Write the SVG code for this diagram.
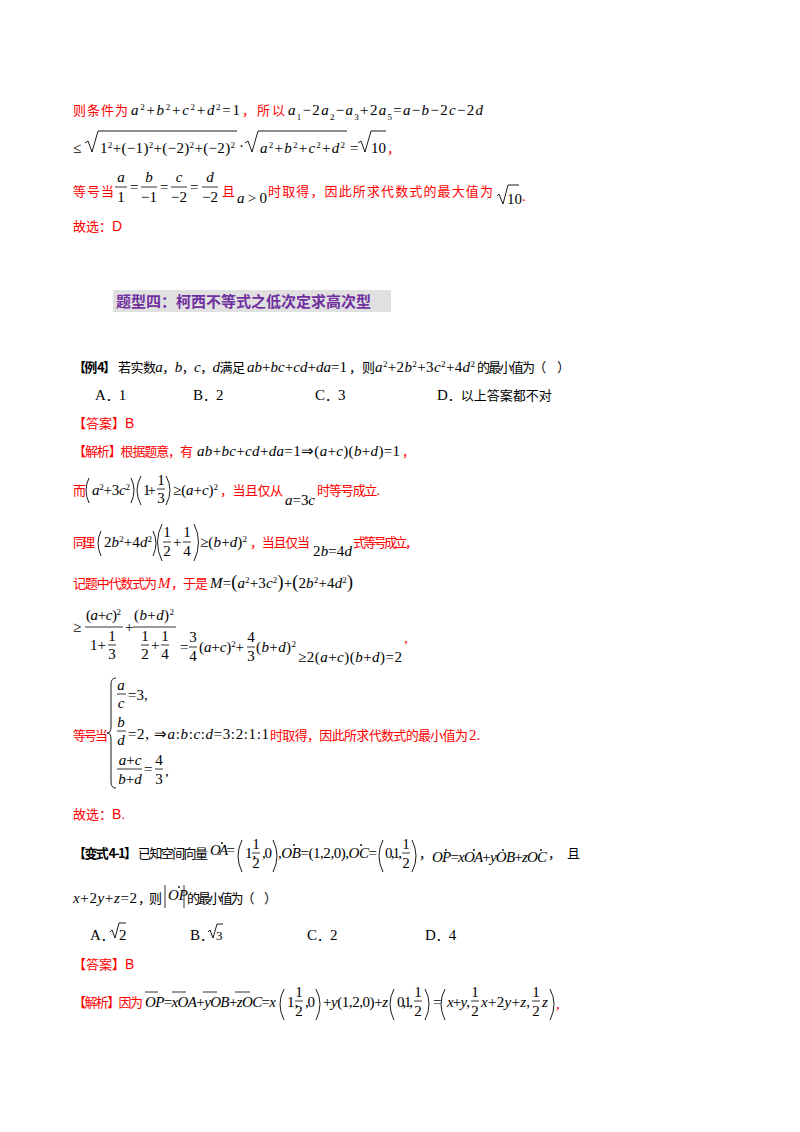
<svg xmlns="http://www.w3.org/2000/svg" width="800" height="1132" viewBox="0 0 800 1132">
<style>
text{font-family:"Liberation Serif",serif;font-size:15px;fill:#000}
.r{fill:#f00;font-family:"Noto Sans CJK SC",sans-serif;font-size:13px}
.k{font-family:"Noto Sans CJK SC",sans-serif;font-size:13px}
.kb{font-family:"Noto Sans CJK SC",sans-serif;font-size:13px;font-weight:bold}
.i{font-style:italic}
.s{font-size:9px;baseline-shift:super}
.b{font-size:9px;baseline-shift:sub}
.rs{fill:#f00;font-family:"Liberation Sans",sans-serif;font-size:14px}
.rr{fill:#f00}
line{stroke:#000;stroke-width:0.8}
path{stroke:#000;stroke-width:0.9;fill:none}
circle{fill:#000}
.c{text-anchor:middle}
</style>
<rect width="800" height="1132" fill="#fff"/>
<g id="sol3">
<text x="73" y="115" class="r" textLength="55">则条件为</text>
<text x="131" y="115" textLength="109"><tspan class="i">a</tspan><tspan class="s">2</tspan>+<tspan class="i">b</tspan><tspan class="s">2</tspan>+<tspan class="i">c</tspan><tspan class="s">2</tspan>+<tspan class="i">d</tspan><tspan class="s">2</tspan>=1</text>
<text x="242" y="115" class="r" textLength="43">，所以</text>
<text x="288" y="115" textLength="195"><tspan class="i">a</tspan><tspan class="b">1</tspan>−2<tspan class="i">a</tspan><tspan class="b">2</tspan>−<tspan class="i">a</tspan><tspan class="b">3</tspan>+2<tspan class="i">a</tspan><tspan class="b">5</tspan>=<tspan class="i">a</tspan>−<tspan class="i">b</tspan>−2<tspan class="i">c</tspan>−2<tspan class="i">d</tspan></text>
<text x="73" y="153">≤</text>
<path d="M85,143 l3,-2 l4,11 l6,-21 H237"/>
<text x="100" y="153" textLength="135">1<tspan class="s">2</tspan>+(−1)<tspan class="s">2</tspan>+(−2)<tspan class="s">2</tspan>+(−2)<tspan class="s">2</tspan></text>
<text x="239" y="151">·</text>
<path d="M245,143 l3,-2 l4,11 l6,-21 H347"/>
<text x="260" y="153" textLength="85"><tspan class="i">a</tspan><tspan class="s">2</tspan>+<tspan class="i">b</tspan><tspan class="s">2</tspan>+<tspan class="i">c</tspan><tspan class="s">2</tspan>+<tspan class="i">d</tspan><tspan class="s">2</tspan></text>
<text x="350" y="153">=</text>
<path d="M358,143 l3,-2 l4,11 l6,-21 H386"/>
<text x="371" y="153">10</text>
<text x="387" y="153" class="r">，</text>
<text x="73" y="196" class="r" textLength="41">等号当</text>
<text x="121" y="182" class="c i">a</text><line x1="115" y1="187" x2="127" y2="187"/><text x="121" y="202" class="c">1</text>
<text x="130" y="192">=</text>
<text x="149" y="182" class="c i">b</text><line x1="141" y1="187" x2="157" y2="187"/><text x="149" y="202" class="c">−1</text>
<text x="160" y="192">=</text>
<text x="179" y="182" class="c i">c</text><line x1="171" y1="187" x2="187" y2="187"/><text x="179" y="202" class="c">−2</text>
<text x="190" y="192">=</text>
<text x="210" y="182" class="c i">d</text><line x1="202" y1="187" x2="218" y2="187"/><text x="210" y="202" class="c">−2</text>
<text x="222" y="196" class="r">且</text>
<text x="237" y="203" textLength="30"><tspan class="i">a</tspan>&gt;0</text>
<text x="268" y="196" class="r" textLength="225">时取得，因此所求代数式的最大值为</text>
<path d="M497,196 l2,-2 l4,10 l5,-19 H519"/>
<text x="507" y="204">10</text><text x="522" y="201" class="rr">.</text>
<text x="73" y="231"><tspan class="r">故选：</tspan><tspan class="rs">D</tspan></text>
</g>
<g id="header">
<rect x="113" y="290" width="278" height="22" fill="#e0e0e0"/>
<text x="116" y="307" style="font-family:'Noto Sans CJK SC',sans-serif;font-size:15px;font-weight:bold;fill:#7030a0">题型四：柯西不等式之低次定求高次型</text>
</g>
<g id="ex4">
<text x="73" y="372" class="kb" textLength="43">【例 4】</text>
<text x="118" y="372" textLength="127"><tspan class="k">若实数</tspan><tspan class="i">a</tspan><tspan class="k">，</tspan><tspan class="i">b</tspan><tspan class="k">，</tspan><tspan class="i">c</tspan><tspan class="k">，</tspan><tspan class="i">d</tspan><tspan class="k">满足</tspan></text>
<text x="247" y="372" textLength="100"><tspan class="i">ab</tspan>+<tspan class="i">bc</tspan>+<tspan class="i">cd</tspan>+<tspan class="i">da</tspan>=1</text>
<text x="349" y="372" class="k">，则</text>
<text x="375" y="372" textLength="100"><tspan class="i">a</tspan><tspan class="s">2</tspan>+2<tspan class="i">b</tspan><tspan class="s">2</tspan>+3<tspan class="i">c</tspan><tspan class="s">2</tspan>+4<tspan class="i">d</tspan><tspan class="s">2</tspan></text>
<text x="477" y="372" class="k" textLength="93">的最小值为（　 ）</text>
<text x="95" y="400">A<tspan class="k">．</tspan>1</text><text x="193" y="400">B<tspan class="k">．</tspan>2</text><text x="315" y="400">C<tspan class="k">．</tspan>3</text><text x="437" y="400">D<tspan class="k">．以上答案都不对</tspan></text>
<text x="73" y="428"><tspan class="r">【答案】</tspan><tspan class="rs">B</tspan></text>
<text x="73" y="456" class="r" textLength="120">【解析】根据题意，有</text>
<text x="197" y="456" textLength="203"><tspan class="i">ab</tspan>+<tspan class="i">bc</tspan>+<tspan class="i">cd</tspan>+<tspan class="i">da</tspan>=1⇒(<tspan class="i">a</tspan>+<tspan class="i">c</tspan>)(<tspan class="i">b</tspan>+<tspan class="i">d</tspan>)=1</text>
<text x="402" y="456" class="r">，</text>

<text x="73" y="495" class="r">而</text>
<path d="M89,478 Q83,490 89,503"/>
<text x="92" y="495" textLength="38"><tspan class="i">a</tspan><tspan class="s">2</tspan>+3<tspan class="i">c</tspan><tspan class="s">2</tspan></text>
<path d="M131,478 Q137,490 131,503"/>
<path d="M141,476 Q133,490 141,505"/>
<text x="143" y="495" textLength="13">1+</text>
<text x="161" y="485" class="c">1</text><line x1="157" y1="489" x2="165" y2="489"/><text x="161" y="503" class="c">3</text>
<path d="M166,476 Q174,490 166,505"/>
<text x="173" y="495" textLength="45">≥(<tspan class="i">a</tspan>+<tspan class="i">c</tspan>)<tspan class="s">2</tspan></text>
<text x="220" y="495" class="r" textLength="63">，当且仅从</text>
<text x="285" y="505" textLength="30"><tspan class="i">a</tspan>=3<tspan class="i">c</tspan></text>
<text x="317" y="495" class="r" textLength="63">时等号成立.</text>

<text x="73" y="547" class="r" textLength="22">同理</text>
<path d="M101,531 Q95,543 101,556"/>
<text x="104" y="547" textLength="48">2<tspan class="i">b</tspan><tspan class="s">2</tspan>+4<tspan class="i">d</tspan><tspan class="s">2</tspan></text>
<path d="M153,531 Q159,543 153,556"/>
<path d="M162,524 Q153,542 162,561"/>
<text x="167" y="537" class="c">1</text><line x1="163" y1="542" x2="171" y2="542"/><text x="167" y="556" class="c">2</text>
<text x="173" y="547">+</text>
<text x="187" y="537" class="c">1</text><line x1="183" y1="542" x2="191" y2="542"/><text x="187" y="556" class="c">4</text>
<path d="M194,524 Q203,542 194,561"/>
<text x="200" y="547" textLength="47">≥(<tspan class="i">b</tspan>+<tspan class="i">d</tspan>)<tspan class="s">2</tspan></text>
<text x="250" y="547" class="r" textLength="60">，当且仅当</text>
<text x="313" y="556" textLength="39">2<tspan class="i">b</tspan>=4<tspan class="i">d</tspan></text>
<text x="353" y="547" class="r" textLength="65">式等号成立，</text>

<text x="73" y="588" class="r" textLength="84">记题中代数式为</text>
<text x="158" y="588" class="i rr">M</text>
<text x="171" y="588" class="r" textLength="37">，于是</text>
<text x="210" y="588" textLength="143"><tspan class="i">M</tspan>=<tspan style="font-size:18px">(</tspan><tspan class="i">a</tspan><tspan class="s">2</tspan>+3<tspan class="i">c</tspan><tspan class="s">2</tspan><tspan style="font-size:18px">)</tspan>+<tspan style="font-size:18px">(</tspan>2<tspan class="i">b</tspan><tspan class="s">2</tspan>+4<tspan class="i">d</tspan><tspan class="s">2</tspan><tspan style="font-size:18px">)</tspan></text>

<text x="73" y="632">≥</text>
<text x="86" y="620" textLength="35">(<tspan class="i">a</tspan>+<tspan class="i">c</tspan>)<tspan class="s">2</tspan></text>
<line x1="85" y1="627" x2="123" y2="627"/>
<text x="90" y="650">1+</text>
<text x="112" y="641" class="c">1</text><line x1="108" y1="645" x2="116" y2="645"/><text x="112" y="659" class="c">3</text>
<text x="125" y="632">+</text>
<text x="134" y="620" textLength="40">(<tspan class="i">b</tspan>+<tspan class="i">d</tspan>)<tspan class="s">2</tspan></text>
<line x1="133" y1="627" x2="176" y2="627"/>
<text x="145" y="641" class="c">1</text><line x1="141" y1="645" x2="149" y2="645"/><text x="145" y="659" class="c">2</text>
<text x="151" y="650">+</text>
<text x="165" y="641" class="c">1</text><line x1="161" y1="645" x2="169" y2="645"/><text x="165" y="659" class="c">4</text>
<text x="180" y="652">=</text>
<text x="193" y="642" class="c">3</text><line x1="189" y1="647" x2="197" y2="647"/><text x="193" y="661" class="c">4</text>
<text x="199" y="652" textLength="45">(<tspan class="i">a</tspan>+<tspan class="i">c</tspan>)<tspan class="s">2</tspan>+</text>
<text x="251" y="642" class="c">4</text><line x1="247" y1="647" x2="255" y2="647"/><text x="251" y="661" class="c">3</text>
<text x="256" y="652" textLength="40">(<tspan class="i">b</tspan>+<tspan class="i">d</tspan>)<tspan class="s">2</tspan></text>
<text x="298" y="662" textLength="104">≥2(<tspan class="i">a</tspan>+<tspan class="i">c</tspan>)(<tspan class="i">b</tspan>+<tspan class="i">d</tspan>)=2</text>
<text x="404" y="643" class="rr">,</text>

<text x="73" y="740" class="r" textLength="35">等号当</text>
<path d="M116,678 Q111,678 111,684 V727 Q111,733 107,733 Q111,733 111,739 V782 Q111,788 116,788"/>
<text x="121" y="690" class="c i">a</text><line x1="117" y1="694" x2="126" y2="694"/><text x="121" y="708" class="c i">c</text>
<text x="128" y="700">=3,</text>
<text x="121" y="727" class="c i">b</text><line x1="117" y1="731" x2="126" y2="731"/><text x="121" y="745" class="c i">d</text>
<text x="128" y="739" textLength="141">=2, ⇒<tspan class="i">a</tspan>:<tspan class="i">b</tspan>:<tspan class="i">c</tspan>:<tspan class="i">d</tspan>=3:2:1:1</text>
<text x="130" y="765" class="c"><tspan class="i">a</tspan>+<tspan class="i">c</tspan></text><line x1="117" y1="769" x2="142" y2="769"/><text x="130" y="784" class="c"><tspan class="i">b</tspan>+<tspan class="i">d</tspan></text>
<text x="144" y="774">=</text>
<text x="159" y="765" class="c">4</text><line x1="155" y1="769" x2="163" y2="769"/><text x="159" y="784" class="c">3</text>
<text x="165" y="776">,</text>
<text x="270" y="740" class="r" textLength="198">时取得，因此所求代数式的最小值为</text>
<text x="469" y="740" class="rr">2.</text>
<text x="73" y="819"><tspan class="r">故选：</tspan><tspan class="rs">B.</tspan></text>
</g>
<g id="var41">
<text x="73" y="858" class="kb" textLength="64">【变式 4-1】</text>
<text x="138" y="858" class="k" textLength="70">已知空间向量</text>
<text x="210" y="855" textLength="25"><tspan class="i">OA</tspan>=</text>
<circle cx="222" cy="843" r="0.9"/>
<path d="M242,840 Q234,856 242,872"/>
<text x="245" y="858">1,</text>
<text x="256" y="849" class="c">1</text><line x1="252" y1="853" x2="260" y2="853"/><text x="256" y="868" class="c">2</text>
<text x="262" y="858" textLength="10">,0</text>
<path d="M273,840 Q281,856 273,872"/>
<text x="278" y="858" textLength="99">,<tspan class="i">OB</tspan>=(1,2,0),<tspan class="i">OC</tspan>=</text>
<circle cx="294" cy="845" r="0.9"/><circle cx="361" cy="845" r="0.9"/>
<path d="M383,840 Q375,856 383,872"/>
<text x="385" y="858" textLength="17">0,1,</text>
<text x="406" y="849" class="c">1</text><line x1="402" y1="853" x2="410" y2="853"/><text x="406" y="868" class="c">2</text>
<path d="M412,840 Q420,856 412,872"/>
<text x="419" y="858" class="k">，</text>
<text x="432" y="862" textLength="115"><tspan class="i">OP</tspan>=<tspan class="i">xOA</tspan>+<tspan class="i">yOB</tspan>+<tspan class="i">zOC</tspan></text>
<circle cx="446" cy="850" r="0.9"/><circle cx="474" cy="850" r="0.9"/><circle cx="503" cy="850" r="0.9"/><circle cx="541" cy="850" r="0.9"/>
<text x="548" y="858" class="k">，</text>
<text x="567" y="858" class="k">且</text>
<text x="73" y="903" textLength="64"><tspan class="i">x</tspan>+2<tspan class="i">y</tspan>+<tspan class="i">z</tspan>=2</text>
<text x="138" y="903" class="k" textLength="24">，则</text>
<line x1="165" y1="885" x2="165" y2="908"/><line x1="184" y1="885" x2="184" y2="908"/>
<text x="168" y="900" class="i">OP</text><circle cx="179" cy="887" r="0.9"/>
<text x="187" y="903" class="k" textLength="90">的最小值为（　 ）</text>
<text x="90" y="940">A<tspan class="k">．</tspan></text><path d="M110,932 l2,-2 l3,8 l4,-15 h7"/><text x="119" y="940">2</text>
<text x="190" y="940">B<tspan class="k">．</tspan></text><path d="M208,932 l2,-2 l3,8 l4,-14 h6"/><text x="216" y="940" style="font-size:13px">3</text>
<text x="307" y="940">C<tspan class="k">．</tspan>2</text><text x="425" y="940">D<tspan class="k">．</tspan>4</text>
<text x="73" y="969"><tspan class="r">【答案】</tspan><tspan class="rs">B</tspan></text>
<text x="73" y="1007" class="r" textLength="70">【解析】因为</text>
<text x="145" y="1007" textLength="131"><tspan class="i">OP</tspan>=<tspan class="i">xOA</tspan>+<tspan class="i">yOB</tspan>+<tspan class="i">zOC</tspan>=<tspan class="i">x</tspan></text>
<line x1="145" y1="992" x2="158" y2="992"/><line x1="172" y1="992" x2="186" y2="992"/><line x1="203" y1="992" x2="217" y2="992"/><line x1="235" y1="992" x2="250" y2="992"/>
<path d="M284,989 Q276,1004 284,1020"/>
<text x="287" y="1007">1,</text>
<text x="299" y="997" class="c">1</text><line x1="295" y1="1001" x2="303" y2="1001"/><text x="299" y="1016" class="c">2</text>
<text x="305" y="1007" textLength="10">,0</text>
<path d="M316,989 Q324,1004 316,1020"/>
<text x="323" y="1007" textLength="65">+<tspan class="i">y</tspan>(1,2,0)+<tspan class="i">z</tspan></text>
<path d="M394,989 Q386,1004 394,1020"/>
<text x="397" y="1007" textLength="16">0,1,</text>
<text x="418" y="997" class="c">1</text><line x1="414" y1="1001" x2="422" y2="1001"/><text x="418" y="1016" class="c">2</text>
<path d="M425,989 Q433,1004 425,1020"/>
<text x="433" y="1007">=</text>
<path d="M445,989 Q437,1004 445,1020"/>
<text x="447" y="1007" textLength="23"><tspan class="i">x</tspan>+<tspan class="i">y</tspan>,</text>
<text x="475" y="997" class="c">1</text><line x1="471" y1="1001" x2="479" y2="1001"/><text x="475" y="1016" class="c">2</text>
<text x="481" y="1007" textLength="49"><tspan class="i">x</tspan>+2<tspan class="i">y</tspan>+<tspan class="i">z</tspan>,</text>
<text x="536" y="997" class="c">1</text><line x1="532" y1="1001" x2="540" y2="1001"/><text x="536" y="1016" class="c">2</text>
<text x="542" y="1007" class="i">z</text>
<path d="M550,989 Q558,1004 550,1020"/>
<text x="556" y="1009" class="rr">,</text>
</g>
</svg>
